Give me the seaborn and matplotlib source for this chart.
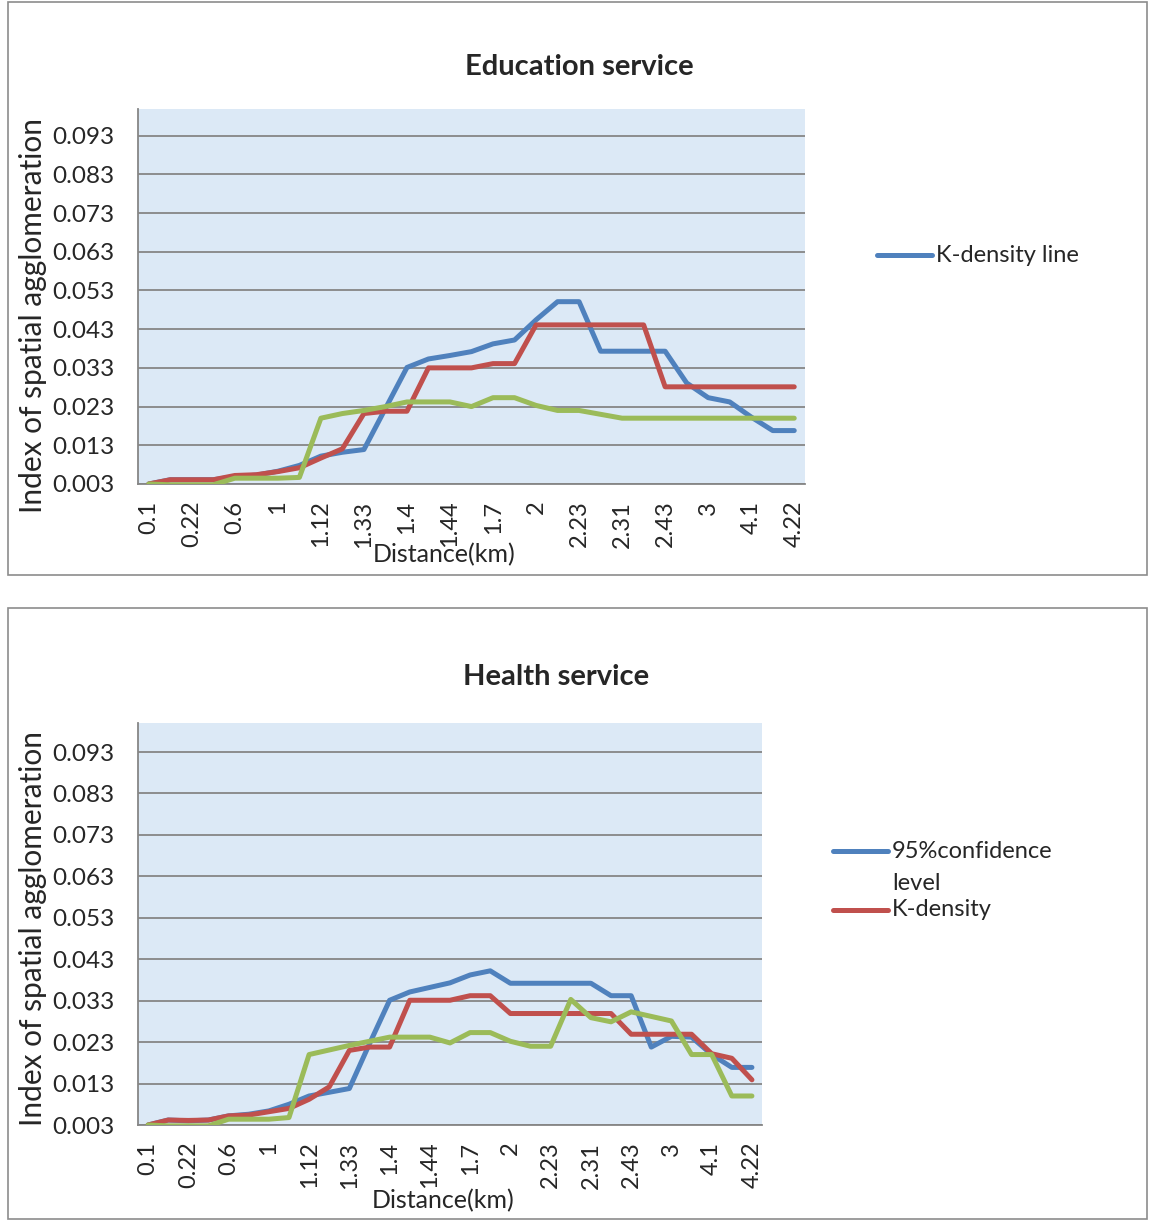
import pandas as pd
import matplotlib.pyplot as plt
import seaborn as sns
from matplotlib.lines import Line2D
from matplotlib.patches import Rectangle

# --- data ---
dist_labels = ["0.1", "0.22", "0.6", "1", "1.12", "1.33", "1.4", "1.44",
               "1.7", "2", "2.23", "2.31", "2.43", "3", "4.1", "4.22"]
y_ticks = [0.003, 0.013, 0.023, 0.033, 0.043, 0.053, 0.063, 0.073, 0.083, 0.093]

edu_blue = [0.003, 0.0041, 0.0041, 0.0041, 0.0049, 0.0053, 0.0063, 0.0078, 0.0102, 0.0112,
            0.0119, 0.0225, 0.0331, 0.0353, 0.0362, 0.0372, 0.0392, 0.0402, 0.0454, 0.0501,
            0.0501, 0.0373, 0.0373, 0.0373, 0.0373, 0.0291, 0.0253, 0.0242, 0.0203, 0.0168, 0.0168]
edu_red = [0.003, 0.0041, 0.0041, 0.0041, 0.0052, 0.0054, 0.0062, 0.0072, 0.0097, 0.0121,
           0.0212, 0.0218, 0.0218, 0.033, 0.033, 0.033, 0.0341, 0.0341, 0.0441, 0.0441,
           0.0441, 0.0441, 0.0441, 0.0441, 0.0281, 0.0281, 0.0281, 0.0281, 0.0281, 0.0281, 0.0281]
edu_green = [0.003, 0.0028, 0.0028, 0.0028, 0.0045, 0.0045, 0.0045, 0.0047, 0.020, 0.0212,
             0.022, 0.023, 0.0242, 0.0242, 0.0242, 0.023, 0.0253, 0.0253, 0.0233, 0.022,
             0.022, 0.021, 0.020, 0.020, 0.020, 0.020, 0.020, 0.020, 0.020, 0.020, 0.020]

hea_blue = [0.003, 0.0042, 0.004, 0.0042, 0.0052, 0.0056, 0.0064, 0.008, 0.010, 0.0109,
            0.0118, 0.0226, 0.0331, 0.0351, 0.0362, 0.0373, 0.0392, 0.0402, 0.0372, 0.0372,
            0.0372, 0.0372, 0.0372, 0.0342, 0.0342, 0.0218, 0.0244, 0.0242, 0.020, 0.0169, 0.0169]
hea_red = [0.003, 0.0042, 0.0041, 0.0042, 0.0052, 0.0054, 0.0062, 0.007, 0.0092, 0.0122,
           0.021, 0.0218, 0.0218, 0.0331, 0.0331, 0.0331, 0.0342, 0.0342, 0.0299, 0.0299,
           0.0299, 0.0299, 0.0299, 0.0299, 0.0249, 0.0249, 0.0249, 0.0249, 0.0202, 0.0191, 0.0139]
hea_green = [0.003, 0.0028, 0.0028, 0.0028, 0.0044, 0.0044, 0.0044, 0.0048, 0.020, 0.0211,
             0.0222, 0.0232, 0.0242, 0.0242, 0.0242, 0.0228, 0.0253, 0.0253, 0.0232, 0.022,
             0.022, 0.0333, 0.0289, 0.0279, 0.0303, 0.0292, 0.0281, 0.020, 0.020, 0.010, 0.010]

BLUE, RED, GREEN = "#4F81BD", "#C0504D", "#9BBB59"
GRID = "#868686"
FONT = ["Lato", "DejaVu Sans"]
LW = 3.6


def long_frame(blue, red, green):
    rows = []
    for name, vals in (("blue", blue), ("red", red), ("green", green)):
        for i, v in enumerate(vals):
            rows.append({"idx": i, "value": v, "series": name})
    return pd.DataFrame(rows)


def draw_panel(ax, df, label_y=0.5):
    ax.set_facecolor("#dce9f6")
    sns.lineplot(data=df, x="idx", y="value", hue="series",
                 palette={"blue": BLUE, "red": RED, "green": GREEN},
                 hue_order=["blue", "red", "green"], linewidth=LW,
                 legend=False, sort=False, ax=ax, zorder=3)
    n = len(edu_blue)
    ax.set_xlim(-0.5, n - 0.5)
    ax.set_ylim(0.003, 0.1)
    ax.set_yticks(y_ticks)
    ax.set_yticklabels([f"{t:.3f}" for t in y_ticks], fontsize=17.5)
    ax.set_xticks(range(0, n, 2))
    ax.set_xticklabels(dist_labels, rotation=90, fontsize=17)
    ax.set_xticks([i - 0.5 for i in range(n + 1)], minor=True)
    ax.tick_params(axis="x", which="major", length=0, pad=12)
    ax.tick_params(axis="x", which="minor", length=7, width=1.2, color=GRID, direction="out")
    ax.tick_params(axis="y", length=7, width=1.2, color=GRID, direction="out", pad=10)
    ax.yaxis.grid(True, color=GRID, linewidth=1.3)
    ax.xaxis.grid(False)
    ax.set_axisbelow(True)
    for s in ("top", "right"):
        ax.spines[s].set_visible(False)
    for s in ("left", "bottom"):
        ax.spines[s].set_color(GRID)
        ax.spines[s].set_linewidth(1.3)
    ax.set_xlabel("")
    ax.set_ylabel("Index of spatial agglomeration", fontsize=21.5, labelpad=0)
    ax.yaxis.set_label_coords(-0.155 if n else 0, label_y)


sns.set_style("white")
plt.rcParams["font.family"] = FONT

W, H = 1149, 1220
fig = plt.figure(figsize=(W / 100, H / 100), dpi=100)


def fx(px):
    return px / W


def fy(py):
    return 1 - py / H


# panel frames
for top, bottom in ((2, 575), (608, 1219)):
    fig.patches.append(Rectangle((fx(8), fy(bottom)), fx(1147) - fx(8), fy(top) - fy(bottom),
                                 transform=fig.transFigure, fill=False,
                                 edgecolor="#8c8c8c", linewidth=1.2))

ax1 = fig.add_axes([fx(138), fy(484), fx(805) - fx(138), fy(108.5) - fy(484)])
draw_panel(ax1, long_frame(edu_blue, edu_red, edu_green), label_y=0.45)
ax1.yaxis.set_label_coords(-(138 - 47) / 667, 0.45)
ax2 = fig.add_axes([fx(138), fy(1125), fx(762) - fx(138), fy(723) - fy(1125)])
draw_panel(ax2, long_frame(hea_blue, hea_red, hea_green), label_y=0.49)
ax2.yaxis.set_label_coords(-(138 - 47) / 624, 0.49)

fig.text(fx(579), fy(67), "Education service", ha="center", va="center",
         fontsize=21, fontweight="bold")
fig.text(fx(556), fy(677), "Health service", ha="center", va="center",
         fontsize=21, fontweight="bold")
fig.text(fx(444), fy(555), "Distance(km)", ha="center", va="center", fontsize=18)
fig.text(fx(443), fy(1201), "Distance(km)", ha="center", va="center", fontsize=18)

# legends
LEG_FS = 17
fig.add_artist(Line2D([fx(877), fx(932)], [fy(255), fy(255)], color=BLUE, linewidth=LW,
                      transform=fig.transFigure))
fig.text(fx(936), fy(255), "K-density line", ha="left", va="center", fontsize=LEG_FS)
fig.add_artist(Line2D([fx(833), fx(888)], [fy(851), fy(851)], color=BLUE, linewidth=LW,
                      transform=fig.transFigure))
fig.text(fx(892), fy(851), "95%confidence", ha="left", va="center", fontsize=LEG_FS)
fig.text(fx(892), fy(883), "level", ha="left", va="center", fontsize=LEG_FS)
fig.add_artist(Line2D([fx(833), fx(888)], [fy(910), fy(910)], color=RED, linewidth=LW,
                      transform=fig.transFigure))
fig.text(fx(892), fy(910), "K-density", ha="left", va="center", fontsize=LEG_FS)

fig.savefig("out.png", dpi=100)
